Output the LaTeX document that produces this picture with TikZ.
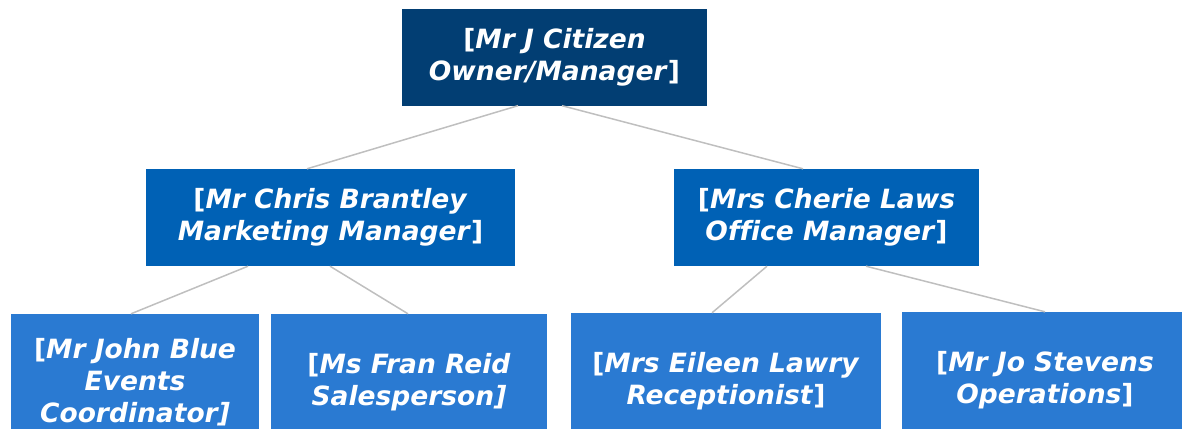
\documentclass[tikz,border=0pt]{standalone}
\usepackage{fontspec}
\setmainfont[Ligatures=NoCommon]{DejaVu Sans}
\definecolor{topblue}{RGB}{2,62,115}
\definecolor{midblue}{RGB}{0,97,181}
\definecolor{lowblue}{RGB}{42,122,210}
\definecolor{linegray}{RGB}{191,191,191}
\tikzset{
  box/.style={rectangle, inner sep=0pt, text=white, align=center,
    font=\fontsize{26.5}{32}\selectfont\bfseries},
  topbox/.style={box, fill=topblue, minimum width=305pt, minimum height=96.5pt},
  midbox/.style={box, fill=midblue, minimum height=97pt},
  lowbox/.style={box, fill=lowblue, minimum height=137pt},
  link/.style={draw=linegray, line width=1.5pt}
}
\begin{document}
\begin{tikzpicture}[x=1pt,y=-1pt]
\useasboundingbox (0,0) rectangle (1182,428);
\clip (0,0) rectangle (1182,428);
\node[topbox] (top) at (554.5,57.25) {[\textit{Mr J Citizen}\\\textit{Owner/Manager}]};
\node[midbox, minimum width=369pt] (ml) at (330.5,217.5) {[\textit{Mr Chris Brantley}\\\textit{Marketing Manager}]};
\node[midbox, minimum width=305pt] (mr) at (826.5,217.5) {[\textit{Mrs Cherie Laws}\\\textit{Office Manager}]};
\node[lowbox, minimum width=248pt] (john) at (135,382.5) {[\textit{Mr John Blue}\\\textit{Events}\\\textit{Coordinator]}};
\node[lowbox, minimum width=276pt] (fran) at (409,382.5) {[\textit{Ms Fran Reid}\\\textit{Salesperson]}};
\node[lowbox, minimum width=310pt] (eileen) at (726,381.5) {[\textit{Mrs Eileen Lawry}\\\textit{Receptionist}]};
\node[lowbox, minimum width=286pt] (jo) at (1045,380.5) {[\textit{Mr Jo Stevens}\\\textit{Operations}]};
\draw[link] ([xshift=-36.5pt]top.south) -- ([xshift=-23.5pt]ml.north);
\draw[link] ([xshift=7.5pt]top.south) -- ([xshift=-23.5pt]mr.north);
\draw[link] ([xshift=-82.5pt]ml.south) -- ([xshift=-4pt]john.north);
\draw[link] ([xshift=-0.5pt]ml.south) -- ([xshift=-1pt]fran.north);
\draw[link] ([xshift=-59.5pt]mr.south) -- ([xshift=-14pt]eileen.north);
\draw[link] ([xshift=39.5pt]mr.south) -- (jo.north);
\end{tikzpicture}
\end{document}
